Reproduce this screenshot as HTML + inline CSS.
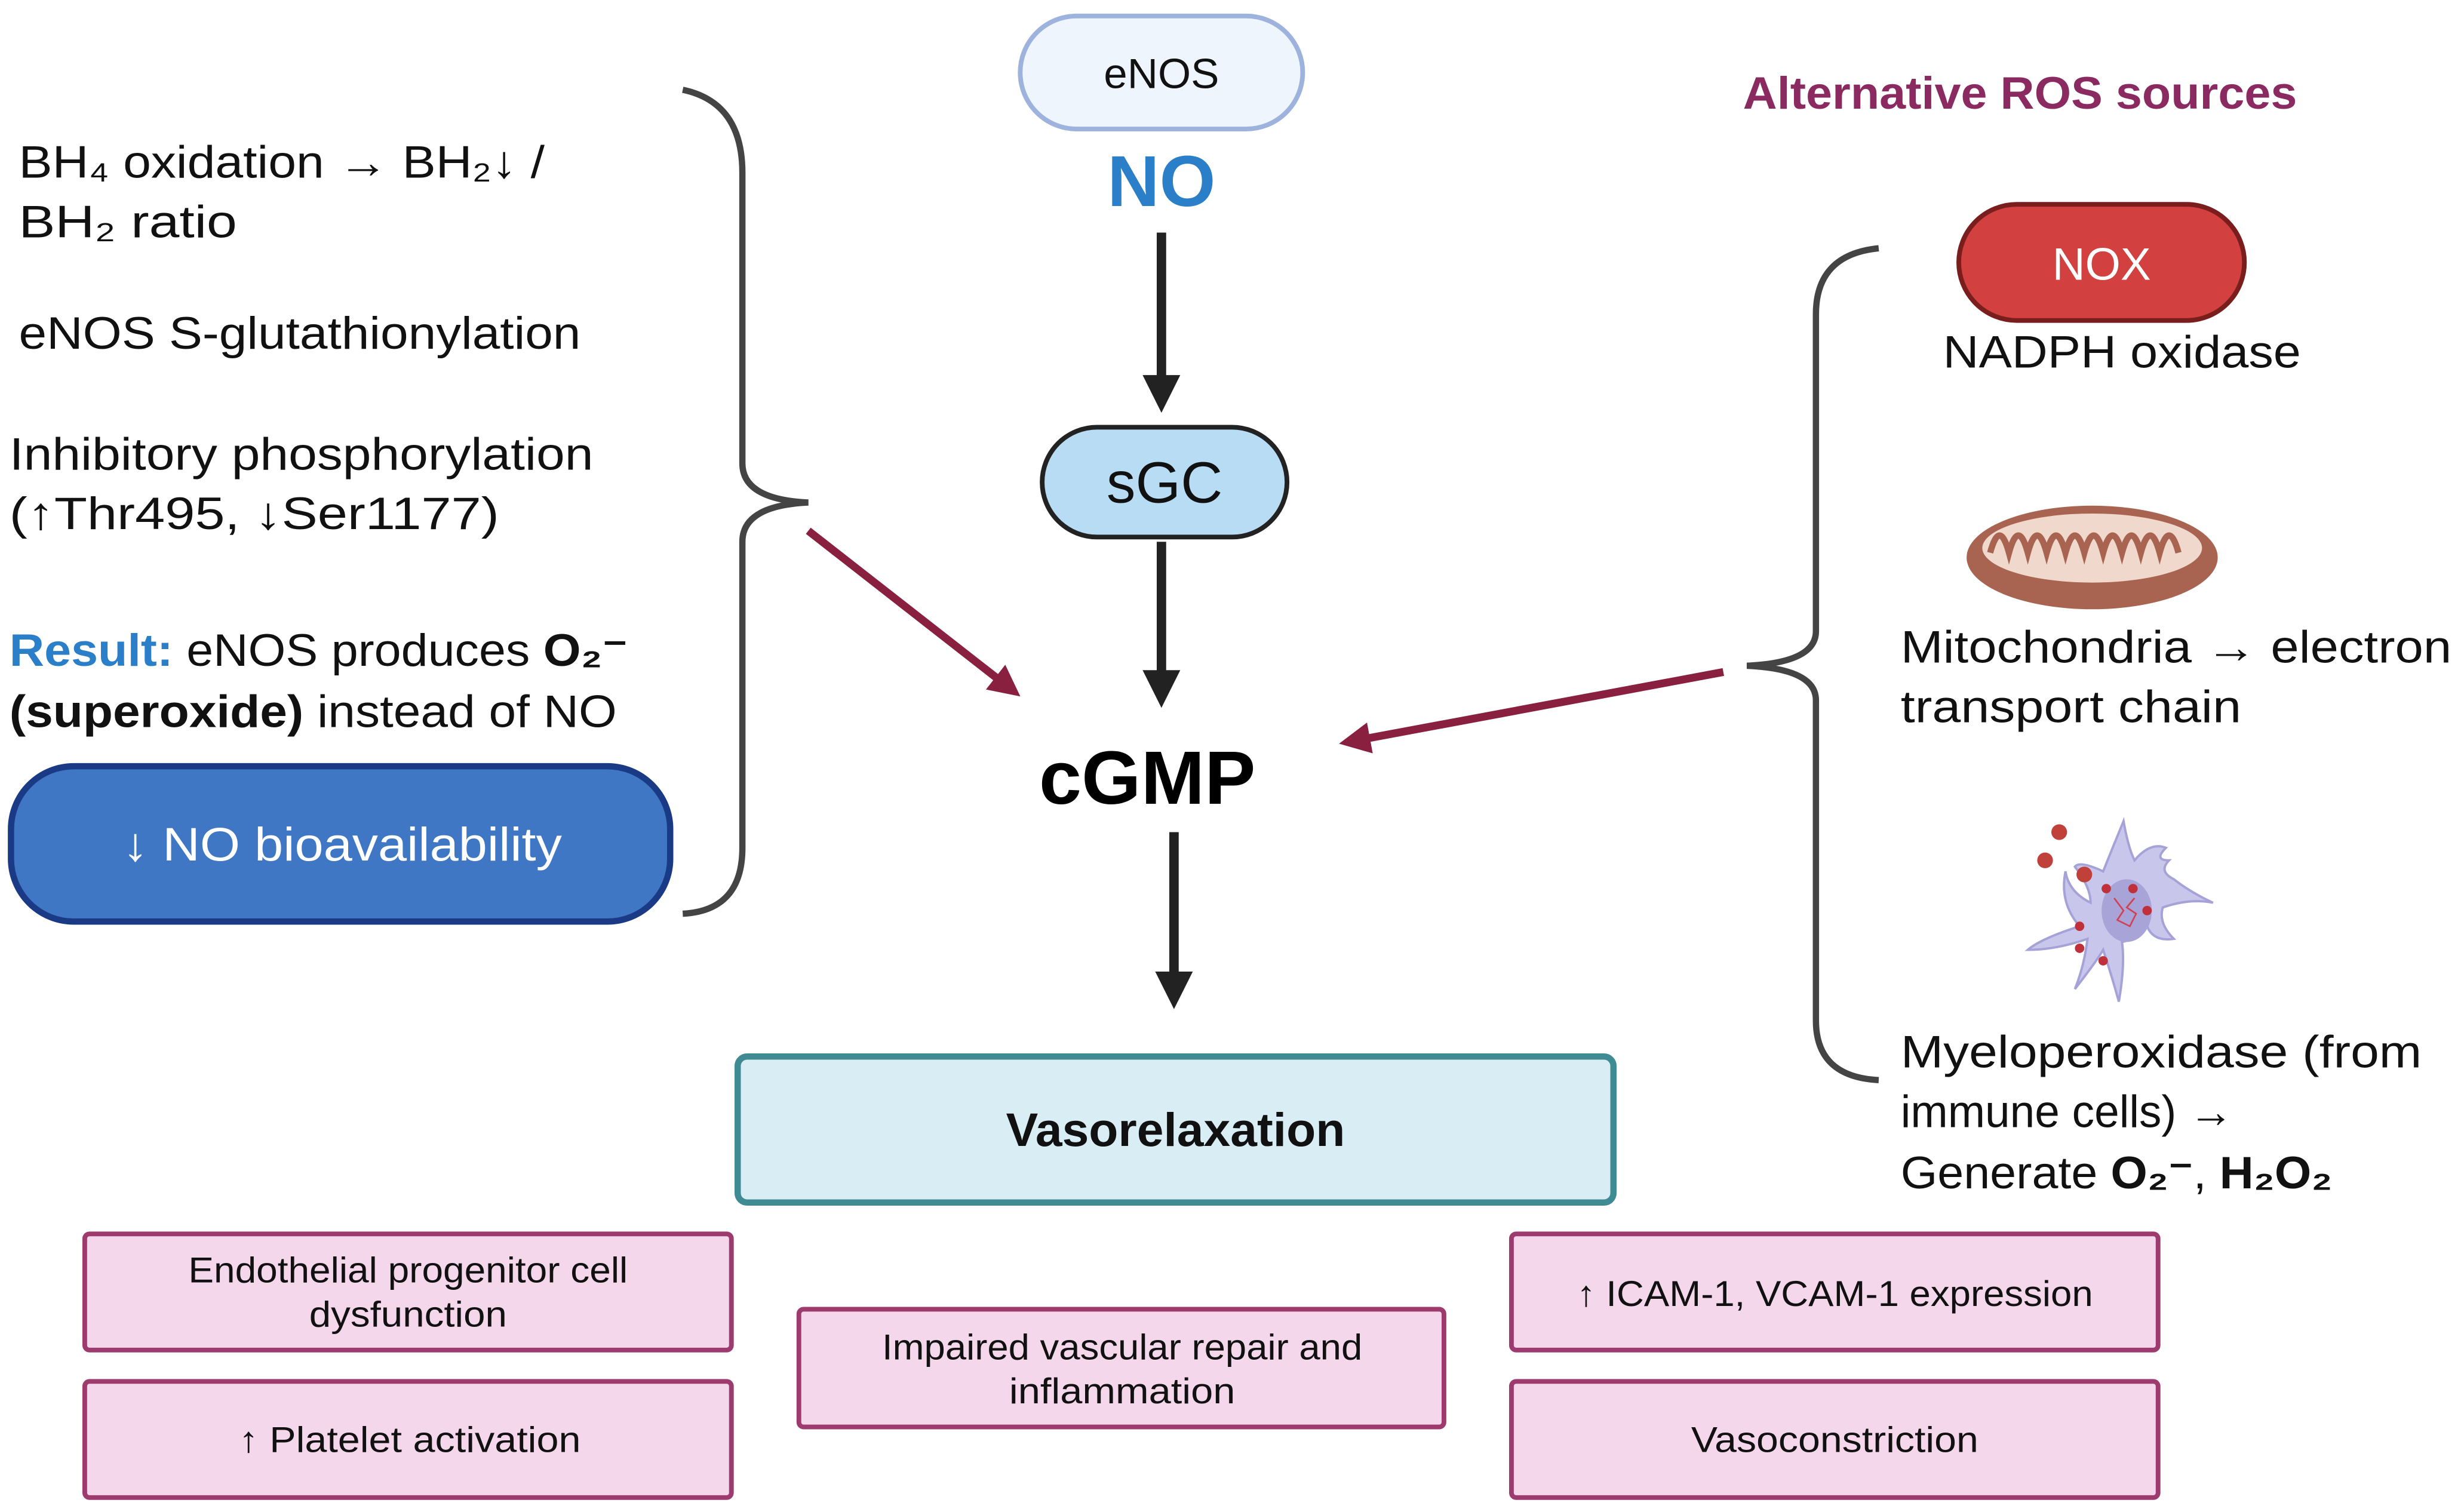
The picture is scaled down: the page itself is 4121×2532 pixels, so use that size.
<!DOCTYPE html>
<html><head><meta charset="utf-8"><style>
html,body{margin:0;padding:0;background:#fff}
svg{display:block}
text{font-family:"Liberation Sans",sans-serif}
</style></head><body>
<svg width="4121" height="2532" viewBox="0 0 1568 963" xmlns="http://www.w3.org/2000/svg">
<defs>
<marker id="ab" markerWidth="4" markerHeight="4" refX="2.2" refY="2" orient="auto" markerUnits="strokeWidth"><path d="M0,0 L4,2 L0,4 z" fill="#222"/></marker>
<marker id="ar" markerWidth="4" markerHeight="4" refX="2.2" refY="2" orient="auto" markerUnits="strokeWidth"><path d="M0,0 L4,2 L0,4 z" fill="#8a2040"/></marker>
</defs>
<rect width="1568" height="963" fill="#fff"/>
<rect x="650" y="10" width="180" height="72" rx="36" fill="#eef5fc" stroke="#9db3dd" stroke-width="3"/>
<text x="740" y="56" font-size="27" text-anchor="middle" fill="#111">eNOS</text>
<text x="740" y="131" font-size="46" font-weight="bold" text-anchor="middle" fill="#2a7fc8">NO</text>
<line x1="740" y1="148" x2="740" y2="252" stroke="#222" stroke-width="6" marker-end="url(#ab)"/>
<rect x="664" y="272" width="156" height="70" rx="35" fill="#b9dcf5" stroke="#222" stroke-width="3"/>
<text x="742" y="320" font-size="37" text-anchor="middle" fill="#111">sGC</text>
<line x1="740" y1="345" x2="740" y2="440" stroke="#222" stroke-width="6" marker-end="url(#ab)"/>
<text x="731" y="512" font-size="48" font-weight="bold" text-anchor="middle" fill="#000" textLength="138" lengthAdjust="spacingAndGlyphs">cGMP</text>
<line x1="748" y1="530" x2="748" y2="632" stroke="#222" stroke-width="6" marker-end="url(#ab)"/>
<rect x="470" y="673" width="558" height="93" rx="6" fill="#d9eef4" stroke="#3f8a93" stroke-width="4"/>
<text x="749" y="730" font-size="30" font-weight="bold" text-anchor="middle" fill="#111" textLength="216" lengthAdjust="spacingAndGlyphs">Vasorelaxation</text>
<g fill="#f5d7ec" stroke="#9d3b6e" stroke-width="3">
<rect x="54" y="786" width="412" height="74" rx="3"/>
<rect x="54" y="880" width="412" height="74" rx="3"/>
<rect x="509" y="834" width="411" height="75" rx="3"/>
<rect x="963" y="786" width="412" height="74" rx="3"/>
<rect x="963" y="880" width="412" height="74" rx="3"/>
</g>
<g font-size="23" text-anchor="middle" fill="#111">
<text x="260" y="817" textLength="280" lengthAdjust="spacingAndGlyphs">Endothelial progenitor cell</text>
<text x="260" y="845" textLength="126" lengthAdjust="spacingAndGlyphs">dysfunction</text>
<text x="261" y="925" textLength="218" lengthAdjust="spacingAndGlyphs">↑ Platelet activation</text>
<text x="715" y="866" textLength="306" lengthAdjust="spacingAndGlyphs">Impaired vascular repair and</text>
<text x="715" y="894" textLength="144" lengthAdjust="spacingAndGlyphs">inflammation</text>
<text x="1169" y="832" textLength="329" lengthAdjust="spacingAndGlyphs">↑ ICAM-1, VCAM-1 expression</text>
<text x="1169" y="925" textLength="183" lengthAdjust="spacingAndGlyphs">Vasoconstriction</text>
</g>
<g font-size="29" fill="#111">
<text x="12" y="113" textLength="335" lengthAdjust="spacingAndGlyphs">BH₄ oxidation → BH₂↓ /</text>
<text x="12" y="151" textLength="139" lengthAdjust="spacingAndGlyphs">BH₂ ratio</text>
<text x="12" y="222" textLength="358" lengthAdjust="spacingAndGlyphs">eNOS S-glutathionylation</text>
<text x="6" y="299" textLength="372" lengthAdjust="spacingAndGlyphs">Inhibitory phosphorylation</text>
<text x="6" y="337" textLength="312" lengthAdjust="spacingAndGlyphs">(↑Thr495, ↓Ser1177)</text>
<text x="6" y="424" textLength="394" lengthAdjust="spacingAndGlyphs"><tspan fill="#2a7fc8" font-weight="bold">Result:</tspan> eNOS produces <tspan font-weight="bold">O₂⁻</tspan></text>
<text x="6" y="463" textLength="387" lengthAdjust="spacingAndGlyphs"><tspan font-weight="bold">(superoxide)</tspan> instead of NO</text>
</g>
<rect x="7" y="488" width="420" height="99" rx="40" fill="#3f77c4" stroke="#1b3a86" stroke-width="4"/>
<text x="218" y="548" font-size="30" text-anchor="middle" fill="#fff" textLength="280" lengthAdjust="spacingAndGlyphs">↓ NO bioavailability</text>
<path d="M435,57 Q473,65 473,110 L473,295 Q473,318 515,320 Q473,322 473,345 L473,540 Q473,580 435,582" fill="none" stroke="#444" stroke-width="4"/>
<line x1="515" y1="338" x2="643" y2="438" stroke="#8a2040" stroke-width="5" marker-end="url(#ar)"/>
<text x="1287" y="69" font-size="29" font-weight="bold" text-anchor="middle" fill="#8a2a60" textLength="353" lengthAdjust="spacingAndGlyphs">Alternative ROS sources</text>
<path d="M1197,158 Q1157,162 1157,200 L1157,402 Q1157,422 1113,424 Q1157,426 1157,446 L1157,650 Q1157,686 1197,688" fill="none" stroke="#444" stroke-width="4"/>
<line x1="1098" y1="428" x2="862" y2="472" stroke="#8a2040" stroke-width="5" marker-end="url(#ar)"/>
<rect x="1248" y="130" width="182" height="74" rx="37" fill="#d2403f" stroke="#7a1d1d" stroke-width="3"/>
<text x="1339" y="178" font-size="29" text-anchor="middle" fill="#fff">NOX</text>
<text x="1352" y="234" font-size="29" text-anchor="middle" fill="#111" textLength="228" lengthAdjust="spacingAndGlyphs">NADPH oxidase</text>
<ellipse cx="1333" cy="355" rx="80" ry="33" fill="#a86450"/>
<ellipse cx="1333" cy="349" rx="70" ry="22" fill="#f0d8cc"/>
<path d="M1268,352 q6,-22 12,0 q6,-22 12,0 q6,-22 12,0 q6,-22 12,0 q6,-22 12,0 q6,-22 12,0 q6,-22 12,0 q6,-22 12,0 q6,-22 12,0 q6,-22 12,0" fill="none" stroke="#a86450" stroke-width="4"/>
<g font-size="29" fill="#111">
<text x="1211" y="422" textLength="351" lengthAdjust="spacingAndGlyphs">Mitochondria → electron</text>
<text x="1211" y="460" textLength="217" lengthAdjust="spacingAndGlyphs">transport chain</text>
<text x="1211" y="680" textLength="332" lengthAdjust="spacingAndGlyphs">Myeloperoxidase (from</text>
<text x="1211" y="718" textLength="212" lengthAdjust="spacingAndGlyphs">immune cells) →</text>
<text x="1211" y="757" textLength="275" lengthAdjust="spacingAndGlyphs">Generate <tspan font-weight="bold">O₂⁻</tspan>, <tspan font-weight="bold">H₂O₂</tspan></text>
</g>
<g>
<path d="M1353,523 Q1346,540 1340,555 Q1325,548 1322,552 Q1332,565 1332,575 Q1318,568 1316,555 Q1312,575 1325,590 Q1300,598 1292,605 Q1310,605 1330,598 Q1328,615 1322,630 Q1336,612 1340,605 Q1345,620 1350,638 Q1354,615 1352,600 Q1362,598 1368,590 Q1372,600 1385,598 Q1375,588 1378,578 Q1395,572 1410,575 Q1395,568 1385,560 Q1375,555 1382,548 Q1372,548 1380,540 Q1370,536 1360,548 Q1356,540 1353,523 z" fill="#c9c6ec" stroke="#a5a2d8" stroke-width="1.5"/>
<ellipse cx="1355" cy="580" rx="16" ry="20" fill="#a8a4d8"/>
<path d="M1347,572 l6,8 l-4,6 l8,4 l4,-8 l-6,-4 l5,-6" fill="none" stroke="#d04050" stroke-width="1"/>
<g fill="#c0303a"><circle cx="1342" cy="566" r="3"/><circle cx="1359" cy="566" r="3"/><circle cx="1368" cy="580" r="3"/><circle cx="1325" cy="590" r="3"/><circle cx="1325" cy="604" r="3"/><circle cx="1340" cy="612" r="3"/></g>
<g fill="#c0403a"><circle cx="1312" cy="530" r="5"/><circle cx="1303" cy="548" r="5"/><circle cx="1328" cy="557" r="5"/></g>
</g>
</svg>
</body></html>
